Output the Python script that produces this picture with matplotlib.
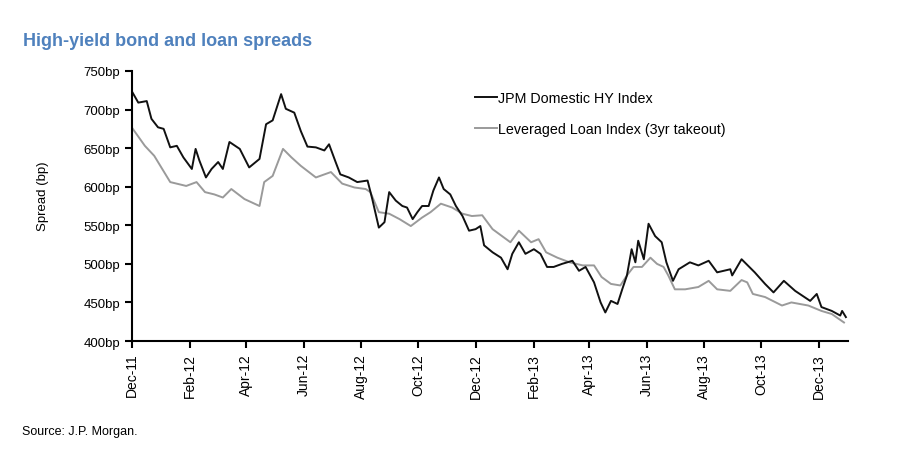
import matplotlib
matplotlib.use("Agg")
import matplotlib.pyplot as plt
import matplotlib.dates as mdates
import matplotlib.ticker as mticker
import pandas as pd

# JPM Domestic HY Index (bp)
hy_dates = ["2011-12-01", "2011-12-08", "2011-12-17", "2011-12-22", "2011-12-29",
            "2012-01-04", "2012-01-11", "2012-01-18", "2012-01-25", "2012-02-03",
            "2012-02-07", "2012-02-11", "2012-02-18", "2012-02-24", "2012-03-02",
            "2012-03-07", "2012-03-14", "2012-03-25", "2012-04-04", "2012-04-15",
            "2012-04-22", "2012-04-29", "2012-05-08", "2012-05-13", "2012-05-22",
            "2012-05-29", "2012-06-05", "2012-06-14", "2012-06-23", "2012-06-28",
            "2012-07-05", "2012-07-10", "2012-07-19", "2012-07-28", "2012-08-08",
            "2012-08-13", "2012-08-20", "2012-08-26", "2012-08-31", "2012-09-07",
            "2012-09-14", "2012-09-19", "2012-09-25", "2012-09-30", "2012-10-05",
            "2012-10-12", "2012-10-17", "2012-10-23", "2012-10-28", "2012-11-04",
            "2012-11-10", "2012-11-17", "2012-11-24", "2012-12-01", "2012-12-06",
            "2012-12-10", "2012-12-19", "2012-12-28", "2013-01-04", "2013-01-09",
            "2013-01-16", "2013-01-23", "2013-02-01", "2013-02-08", "2013-02-15",
            "2013-02-22", "2013-03-03", "2013-03-14", "2013-03-21", "2013-03-28",
            "2013-04-06", "2013-04-13", "2013-04-18", "2013-04-24", "2013-05-01",
            "2013-05-06", "2013-05-11", "2013-05-16", "2013-05-20", "2013-05-23",
            "2013-05-29", "2013-06-03", "2013-06-10", "2013-06-17", "2013-06-22",
            "2013-06-29", "2013-07-05", "2013-07-17", "2013-07-26", "2013-08-06",
            "2013-08-15", "2013-08-29", "2013-08-31", "2013-09-10", "2013-09-24",
            "2013-10-05", "2013-10-14", "2013-10-25", "2013-11-06", "2013-11-22",
            "2013-11-29", "2013-12-04", "2013-12-15", "2013-12-24", "2013-12-26",
            "2013-12-30"]
hy_values = [724, 709, 711, 688, 677, 675, 651, 653, 638, 623,
             649, 634, 612, 623, 632, 623, 658, 649, 625, 636,
             681, 686, 720, 701, 696, 672, 652, 651, 647, 655,
             632, 616, 612, 606, 608, 584, 547, 554, 593, 582,
             575, 573, 558, 567, 575, 575, 595, 612, 597, 590,
             575, 562, 543, 545, 549, 524, 515, 508, 493, 513,
             528, 513, 519, 513, 496, 496, 500, 504, 491, 496,
             476, 450, 437, 452, 448, 467, 485, 519, 502, 530,
             506, 552, 536, 528, 502, 478, 493, 502, 498, 504,
             489, 493, 485, 506, 489, 474, 463, 478, 465, 452,
             461, 444, 439, 433, 439, 431]

# Leveraged Loan Index (3yr takeout), bp
loan_dates = ["2011-12-01", "2011-12-15", "2011-12-25", "2012-01-11", "2012-01-28",
              "2012-02-08", "2012-02-17", "2012-02-27", "2012-03-07", "2012-03-16",
              "2012-03-30", "2012-04-15", "2012-04-20", "2012-04-29", "2012-05-10",
              "2012-05-19", "2012-05-29", "2012-06-14", "2012-06-30", "2012-07-12",
              "2012-07-25", "2012-08-06", "2012-08-11", "2012-08-20", "2012-08-31",
              "2012-09-11", "2012-09-23", "2012-10-05", "2012-10-14", "2012-10-25",
              "2012-11-06", "2012-11-17", "2012-11-27", "2012-12-08", "2012-12-19",
              "2013-01-07", "2013-01-16", "2013-01-29", "2013-02-06", "2013-02-14",
              "2013-02-26", "2013-03-11", "2013-03-25", "2013-04-06", "2013-04-14",
              "2013-04-24", "2013-05-04", "2013-05-11", "2013-05-18", "2013-05-27",
              "2013-06-05", "2013-06-12", "2013-06-19", "2013-06-24", "2013-07-01",
              "2013-07-12", "2013-07-26", "2013-08-06", "2013-08-15", "2013-08-29",
              "2013-09-10", "2013-09-16", "2013-09-22", "2013-10-05", "2013-10-23",
              "2013-11-02", "2013-11-20", "2013-12-04", "2013-12-15", "2013-12-28"]
loan_values = [677, 653, 640, 606, 601, 606, 593, 590, 586, 597,
               584, 575, 606, 614, 649, 638, 627, 612, 619, 604,
               599, 597, 593, 567, 565, 558, 549, 560, 567, 578,
               573, 565, 562, 563, 545, 528, 543, 528, 532, 515,
               508, 502, 498, 498, 483, 474, 472, 485, 496, 496,
               508, 500, 496, 485, 467, 467, 470, 478, 467, 465,
               479, 476, 461, 457, 446, 450, 446, 439, 435, 424]

y_ticks = [400, 450, 500, 550, 600, 650, 700, 750]

plt.rcParams['font.family'] = ['Liberation Sans', 'DejaVu Sans']

fig = plt.figure(figsize=(8.99, 4.6), dpi=100)
ax = fig.add_axes([0.1465, 0.2565, 0.7965, 0.587])

ax.plot(pd.to_datetime(loan_dates), loan_values, color='#9a9a9a', lw=1.4,
        label='Leveraged Loan Index (3yr takeout)')
ax.plot(pd.to_datetime(hy_dates), hy_values, color='#111111', lw=1.4,
        label='JPM Domestic HY Index')

ax.set_ylim(400, 750)
ax.set_yticks(y_ticks)
ax.yaxis.set_major_formatter(mticker.FuncFormatter(lambda v, p: f"{int(v)}bp"))
ax.set_xlim(pd.Timestamp("2011-12-01"), pd.Timestamp("2014-01-01"))
ax.xaxis.set_major_locator(mdates.MonthLocator(bymonth=[2, 4, 6, 8, 10, 12]))
ax.xaxis.set_major_formatter(mdates.DateFormatter("%b-%y"))

for s in ['top', 'right']:
    ax.spines[s].set_visible(False)
for s in ['left', 'bottom']:
    ax.spines[s].set_linewidth(1.5)
ax.tick_params(axis='both', direction='out', length=5, width=1.5)
ax.tick_params(axis='y', labelsize=9.5)
ax.tick_params(axis='x', labelrotation=90, labelsize=10)
ax.set_ylabel('Spread (bp)', fontsize=9.5)
ax.yaxis.set_label_coords(-0.116, 0.54)

handles, labels = ax.get_legend_handles_labels()
ax.legend(handles[::-1], labels[::-1], loc='upper left', bbox_to_anchor=(0.462, 0.975),
          frameon=False, fontsize=10.3, handlelength=1.5, handletextpad=0.1,
          labelspacing=1.25)

fig.text(0.026, 0.9, 'High-yield bond and loan spreads', color='#4f81bd',
         fontsize=13, fontweight='bold')
fig.text(0.024, 0.055, 'Source: J.P. Morgan.', fontsize=9)

fig.savefig('out.png', dpi=100)
